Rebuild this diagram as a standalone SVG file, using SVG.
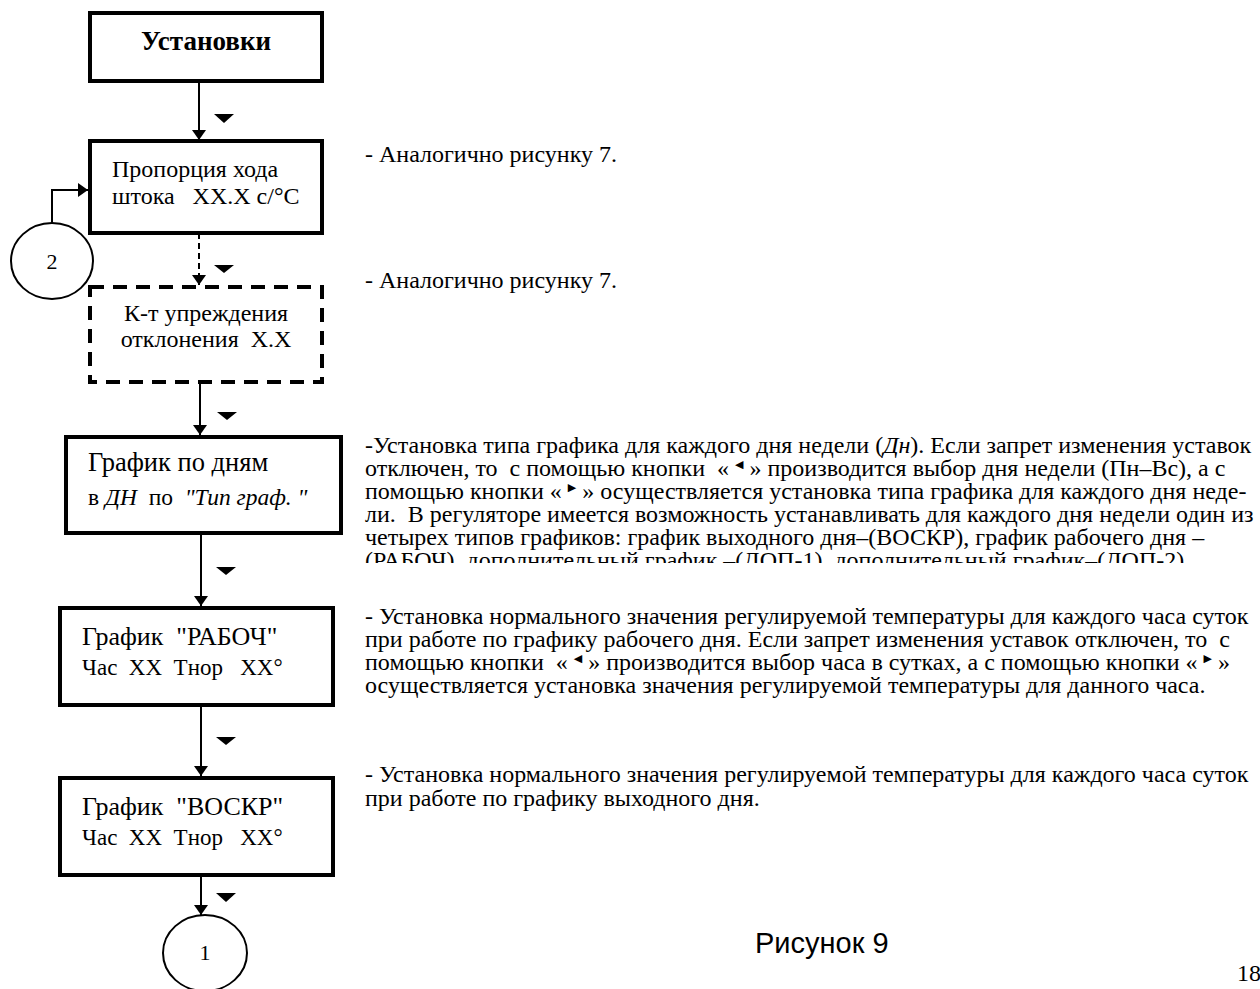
<svg xmlns="http://www.w3.org/2000/svg" width="1260" height="989" viewBox="0 0 1260 989">
<style>
text{font-family:"Liberation Serif","Times New Roman",serif;fill:#000;white-space:pre}
.box{fill:#fff;stroke:#000;stroke-width:4}
.dbox{fill:#fff;stroke:#000;stroke-width:4;stroke-dasharray:14 9}
.ln{stroke:#000;stroke-width:2;fill:none}
.dln{stroke:#000;stroke-width:2;fill:none;stroke-dasharray:6 4}
.tri{fill:#000}
.body{font-size:24px}
.sym{font-family:"DejaVu Sans",sans-serif;font-size:11px}
.it{font-style:italic}
</style>
<defs>
<marker id="ah" markerWidth="10" markerHeight="14" refX="10" refY="7" orient="auto" markerUnits="userSpaceOnUse" viewBox="0 0 10 14">
<path d="M0,0 L10,7 L0,14 Z" fill="#000"/>
</marker>
<clipPath id="clipP1"><rect x="340" y="420" width="920" height="143"/></clipPath>
</defs>

<g id="connectors">
<line class="ln" x1="199" y1="83" x2="199" y2="140" marker-end="url(#ah)"/>
<line class="dln" x1="199" y1="233" x2="199" y2="285" marker-end="url(#ah)"/>
<line class="ln" x1="200" y1="382" x2="200" y2="435" marker-end="url(#ah)"/>
<line class="ln" x1="201" y1="533" x2="201" y2="606" marker-end="url(#ah)"/>
<line class="ln" x1="201" y1="705" x2="201" y2="776" marker-end="url(#ah)"/>
<line class="ln" x1="201" y1="875" x2="201" y2="915" marker-end="url(#ah)"/>
<polyline class="ln" points="52,223 52,190 88,190" marker-end="url(#ah)"/>
<polygon class="tri" points="214,114 234,114 224,123"/>
<polygon class="tri" points="214,265 234,265 224,273"/>
<polygon class="tri" points="217,412 237,412 227,420"/>
<polygon class="tri" points="216,567 236,567 226,575"/>
<polygon class="tri" points="216,737 236,737 226,745"/>
<polygon class="tri" points="216,893 236,893 226,902"/>
</g>

<g id="n-ustanovki">
<rect class="box" x="90" y="13" width="232" height="68"/>
<text x="206" y="50" font-size="27" font-weight="bold" text-anchor="middle">Установки</text>
</g>

<g id="n-proporciya">
<rect class="box" x="90" y="141" width="232" height="92"/>
<text x="112" y="177" font-size="24">Пропорция хода</text>
<text x="112" y="204" font-size="24">штока   XX.X с/°C</text>
</g>

<g id="n-circle2">
<ellipse cx="52" cy="261" rx="41" ry="38" fill="none" stroke="#000" stroke-width="2"/>
<text x="52" y="269" font-size="22" text-anchor="middle">2</text>
</g>

<g id="n-kt">
<rect class="dbox" x="90" y="287" width="232" height="95"/>
<text x="206" y="321" font-size="24" text-anchor="middle">К-т упреждения</text>
<text x="206" y="347" font-size="24" text-anchor="middle">отклонения  X.X</text>
</g>

<g id="n-grafik-dni">
<rect class="box" x="66" y="437" width="275" height="96"/>
<text x="88" y="471" font-size="26.5">График по дням</text>
<text x="88" y="505" font-size="23.5">в <tspan class="it">ДН</tspan>  по  <tspan class="it">"Тип граф. "</tspan></text>
</g>

<g id="n-raboch">
<rect class="box" x="60" y="608" width="273" height="97"/>
<text x="82" y="645" font-size="26">График  "РАБОЧ"</text>
<text x="82" y="675" font-size="23">Час  XX  Тнор   XX°</text>
</g>

<g id="n-voskr">
<rect class="box" x="60" y="778" width="273" height="97"/>
<text x="82" y="815" font-size="26">График  "ВОСКР"</text>
<text x="82" y="845" font-size="23">Час  XX  Тнор   XX°</text>
</g>

<g id="n-circle1">
<ellipse cx="205" cy="953" rx="42" ry="38" fill="none" stroke="#000" stroke-width="2"/>
<text x="205" y="960" font-size="22" text-anchor="middle">1</text>
</g>

<g id="notes">
<text class="body" x="365" y="162">- Аналогично рисунку 7.</text>
<text class="body" x="365" y="288">- Аналогично рисунку 7.</text>
<g clip-path="url(#clipP1)">
<text class="body" x="365" y="453">-Установка типа графика для каждого дня недели (<tspan class="it">Дн</tspan>). Если запрет изменения уставок</text>
<text class="body" x="365" y="476">отключен, то  с помощью кнопки  « <tspan class="sym" dy="-8">◀</tspan><tspan dy="8"> » производится выбор дня недели (Пн–Вс), а с</tspan></text>
<text class="body" x="365" y="499">помощью кнопки « <tspan class="sym" dy="-8">▶</tspan><tspan dy="8"> » осуществляется установка типа графика для каждого дня неде-</tspan></text>
<text class="body" x="365" y="522">ли.  В регуляторе имеется возможность устанавливать для каждого дня недели один из</text>
<text class="body" x="365" y="545">четырех типов графиков: график выходного дня–(ВОСКР), график рабочего дня –</text>
<text class="body" x="365" y="568">(РАБОЧ)  дополнительный график –(ДОП-1), дополнительный график–(ДОП-2)</text>
</g>
<text class="body" x="365" y="624">- Установка нормального значения регулируемой температуры для каждого часа суток</text>
<text class="body" x="365" y="647">при работе по графику рабочего дня. Если запрет изменения уставок отключен, то  с</text>
<text class="body" x="365" y="670">помощью кнопки  « <tspan class="sym" dy="-8">◀</tspan><tspan dy="8"> » производится выбор часа в сутках, а с помощью кнопки « </tspan><tspan class="sym" dy="-8">▶</tspan><tspan dy="8"> »</tspan></text>
<text class="body" x="365" y="693">осуществляется установка значения регулируемой температуры для данного часа.</text>
<text class="body" x="365" y="782">- Установка нормального значения регулируемой температуры для каждого часа суток</text>
<text class="body" x="365" y="806">при работе по графику выходного дня.</text>
</g>

<text x="755" y="953" font-size="29" style="font-family:'Liberation Sans',Arial,sans-serif">Рисунок 9</text>
<text x="1237" y="981" font-size="24">18</text>
</svg>
